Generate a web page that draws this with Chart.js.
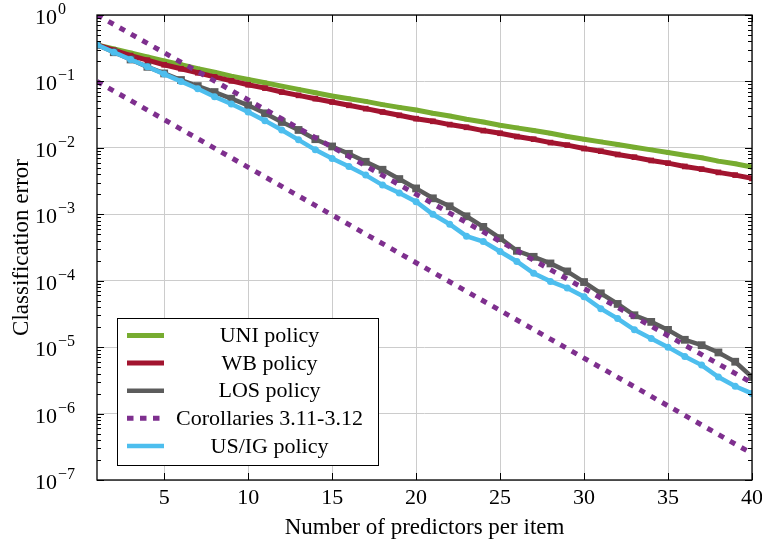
<!DOCTYPE html>
<html>
<head>
<meta charset="utf-8">
<script src="https://cdn.jsdelivr.net/npm/chart.js@4.4.1/dist/chart.umd.min.js"></script>
<style>
body { margin: 0; background: #fff; }
</style>
</head>
<body>
<canvas id="myChart" width="762" height="545"></canvas>
<script>

// number of predictors per item
var predictors = [1, 2, 3, 4, 5, 6, 7, 8, 9, 10, 11, 12, 13, 14, 15, 16, 17, 18, 19, 20,
	21, 22, 23, 24, 25, 26, 27, 28, 29, 30, 31, 32, 33, 34, 35, 36, 37, 38, 39, 40];

var uniPolicy = [0.355, 0.309, 0.269, 0.234, 0.204, 0.178, 0.155, 0.138, 0.120, 0.107,
	0.0955, 0.0851, 0.0759, 0.0676, 0.0603, 0.0550, 0.0501, 0.0447, 0.0407, 0.0372,
	0.0331, 0.0302, 0.0269, 0.0245, 0.0219, 0.0200, 0.0182, 0.0166, 0.0148, 0.0135,
	0.0123, 0.0112, 0.0102, 0.00933, 0.00851, 0.00776, 0.00708, 0.00631, 0.00575, 0.00513];

var wbPolicy = [0.355, 0.295, 0.245, 0.209, 0.178, 0.155, 0.135, 0.117, 0.102, 0.0891,
	0.0794, 0.0692, 0.0617, 0.0550, 0.0490, 0.0437, 0.0389, 0.0347, 0.0309, 0.0275,
	0.0251, 0.0224, 0.0204, 0.0182, 0.0166, 0.0148, 0.0135, 0.0120, 0.0110, 0.00977,
	0.00891, 0.00794, 0.00724, 0.00646, 0.00589, 0.00525, 0.00479, 0.00427, 0.00389, 0.00347];

var losPolicy = [0.355, 0.275, 0.214, 0.166, 0.132, 0.105, 0.0851, 0.0692, 0.0550, 0.0437,
	0.0331, 0.0245, 0.0186, 0.0135, 0.0105, 0.00813, 0.00617, 0.00468, 0.00339, 0.00245,
	0.00174, 0.00132, 0.000933, 0.000646, 0.000437, 0.000282, 0.000229, 0.000182, 0.000138, 0.0000955,
	6.46e-5, 4.47e-5, 3.02e-5, 2.40e-5, 1.82e-5, 1.29e-5, 1.07e-5, 8.32e-6, 6.03e-6, 3.55e-6];

var usigPolicy = [0.355, 0.275, 0.214, 0.166, 0.129, 0.100, 0.0776, 0.0589, 0.0457, 0.0347,
	0.0257, 0.0186, 0.0132, 0.00933, 0.00692, 0.00525, 0.00389, 0.00275, 0.00209, 0.00155,
	0.00100, 0.000708, 0.000468, 0.000389, 0.000275, 0.000195, 0.000129, 9.77e-5, 7.76e-5, 5.75e-5,
	3.80e-5, 2.69e-5, 1.82e-5, 1.35e-5, 1.00e-5, 7.24e-6, 5.37e-6, 3.55e-6, 2.57e-6, 2.00e-6];

// Corollaries 3.11-3.12 (two straight bounds)
var corX = [1, 40];
var corUpper = [1.0, 2.9e-6];
var corLower = [0.1, 2.5e-7];

var xTicks = [5, 10, 15, 20, 25, 30, 35, 40];
var yTicks = [1e-7, 1e-6, 1e-5, 1e-4, 1e-3, 1e-2, 1e-1, 1];
var yExponents = [-7, -6, -5, -4, -3, -2, -1, 0];

var legendNames = ['UNI policy', 'WB policy', 'LOS policy', 'Corollaries 3.11-3.12', 'US/IG policy'];

var FONT = '"Liberation Serif", "Times New Roman", serif';

function toPoints(xs, ys) {
	return xs.map(function (x, i) { return { x: x, y: ys[i] }; });
}

var styleUNI = { color: '#77ac30', width: 5 };
var styleWB = { color: '#a2142f', width: 5 };
var styleLOS = { color: '#5c5c5c', width: 4.5 };
var styleCOR = { color: '#7e2f8e', width: 5, dash: [6, 7] };
var styleUS = { color: '#4dbeee', width: 4.5 };

var datasets = [
	{ label: legendNames[0], data: toPoints(predictors, uniPolicy), borderColor: styleUNI.color,
		backgroundColor: styleUNI.color, borderWidth: styleUNI.width, pointStyle: 'rect', pointRadius: 3,
		pointBorderWidth: 0, order: 5 },
	{ label: legendNames[1], data: toPoints(predictors, wbPolicy), borderColor: styleWB.color,
		backgroundColor: styleWB.color, borderWidth: styleWB.width, pointStyle: 'rect', pointRadius: 4,
		pointBorderWidth: 0, order: 4 },
	{ label: legendNames[2], data: toPoints(predictors, losPolicy), borderColor: styleLOS.color,
		backgroundColor: styleLOS.color, borderWidth: styleLOS.width, pointStyle: 'rect', pointRadius: 5.5,
		pointBorderWidth: 0, order: 3 },
	{ label: legendNames[4], data: toPoints(predictors, usigPolicy), borderColor: styleUS.color,
		backgroundColor: styleUS.color, borderWidth: styleUS.width, pointStyle: 'circle', pointRadius: 3.5,
		pointBorderWidth: 0, order: 2 },
	{ label: legendNames[3], data: toPoints(corX, corUpper), borderColor: styleCOR.color,
		borderWidth: styleCOR.width, borderDash: styleCOR.dash, borderCapStyle: 'butt', pointRadius: 0, order: 1 },
	{ label: legendNames[3] + ' (lower)', data: toPoints(corX, corLower), borderColor: styleCOR.color,
		borderWidth: styleCOR.width, borderDash: styleCOR.dash, borderCapStyle: 'butt', pointRadius: 0, order: 1 }
];

var framePlugin = {
	id: 'frame',
	afterDatasetsDraw: function (chart) {
		var ctx = chart.ctx;
		var a = chart.chartArea;
		var xs = chart.scales.x;
		var ys = chart.scales.y;
		ctx.save();
		ctx.strokeStyle = '#000';
		ctx.lineWidth = 1;
		ctx.beginPath();
		// y ticks, left and right, major + minor
		for (var k = 0; k < yTicks.length; k++) {
			for (var m = 1; m <= 9; m++) {
				var v = yTicks[k] * m;
				if (v > 1.0000001) continue;
				var py = Math.round(ys.getPixelForValue(v)) + 0.5;
				var len = (m === 1) ? 7 : 4;
				ctx.moveTo(a.left, py); ctx.lineTo(a.left + len, py);
				ctx.moveTo(a.right, py); ctx.lineTo(a.right - len, py);
			}
		}
		// x ticks, bottom and top
		xTicks.forEach(function (t) {
			var px = Math.round(xs.getPixelForValue(t)) + 0.5;
			ctx.moveTo(px, a.bottom); ctx.lineTo(px, a.bottom - 7);
			ctx.moveTo(px, a.top); ctx.lineTo(px, a.top + 7);
		});
		ctx.stroke();
		ctx.lineWidth = 1.3;
		ctx.strokeRect(a.left, a.top, a.right - a.left, a.bottom - a.top);

		// y tick labels 10^k
		ctx.fillStyle = '#000';
		ctx.textAlign = 'left';
		yTicks.forEach(function (t, i) {
			var py = ys.getPixelForValue(t);
			ctx.font = '22px ' + FONT;
			ctx.textBaseline = 'alphabetic';
			ctx.fillText('10', 35, py + 9);
			var w = ctx.measureText('10').width;
			ctx.font = '16px ' + FONT;
			var e = yExponents[i];
			var sup = e < 0 ? '\u2212' + (-e) : String(e);
			ctx.fillText(sup, 35 + w + 1, py - 1);
		});
		ctx.restore();
	},
	afterDraw: function (chart) {
		var ctx = chart.ctx;
		var box = { x: 117.5, y: 318.5, w: 261, h: 147 };
		var rows = [
			{ name: legendNames[0], s: styleUNI },
			{ name: legendNames[1], s: styleWB },
			{ name: legendNames[2], s: styleLOS },
			{ name: legendNames[3], s: styleCOR },
			{ name: legendNames[4], s: styleUS }
		];
		ctx.save();
		ctx.fillStyle = '#fff';
		ctx.fillRect(box.x, box.y, box.w, box.h);
		ctx.strokeStyle = '#000';
		ctx.lineWidth = 1;
		ctx.strokeRect(box.x, box.y, box.w, box.h);
		rows.forEach(function (r, i) {
			var cy = 335.5 + i * 27.6;
			ctx.beginPath();
			ctx.strokeStyle = r.s.color;
			ctx.lineWidth = r.s.width;
			ctx.lineCap = 'butt';
			ctx.setLineDash(r.s.dash ? [6.5, 6.5] : []);
			ctx.moveTo(127, cy);
			ctx.lineTo(164, cy);
			ctx.stroke();
			ctx.setLineDash([]);
			ctx.fillStyle = '#000';
			ctx.font = '22px ' + FONT;
			ctx.textAlign = 'center';
			ctx.textBaseline = 'middle';
			ctx.fillText(r.name, 269.5, cy + 1);
		});
		ctx.restore();
	}
};

var ctx = document.getElementById('myChart').getContext('2d');

var myChart = new Chart(ctx, {
	type: 'line',
	data: { datasets: datasets },
	options: {
		responsive: false,
		animation: false,
		devicePixelRatio: 1,
		datasets: { line: { clip: 0, tension: 0 } },
		layout: { padding: { top: 15, right: 10, left: 0, bottom: 0 } },
		plugins: { legend: { display: false }, tooltip: { enabled: false } },
		scales: {
			x: {
				type: 'linear',
				min: 1,
				max: 40,
				afterBuildTicks: function (scale) {
					scale.ticks = xTicks.map(function (v) { return { value: v }; });
				},
				afterFit: function (scale) {
					scale.height = 65;
					scale.paddingLeft = 0;
					scale.paddingRight = 0;
				},
				grid: { color: '#cccccc', lineWidth: 1, drawTicks: false },
				border: { display: false },
				ticks: {
					color: '#000',
					padding: 5,
					maxRotation: 0,
					font: { family: FONT, size: 22 }
				},
				title: {
					display: true,
					text: 'Number of predictors per item',
					color: '#000',
					font: { family: FONT, size: 23 },
					padding: { top: 0, bottom: 3 }
				}
			},
			y: {
				type: 'logarithmic',
				min: 1e-7,
				max: 1,
				afterBuildTicks: function (scale) {
					scale.ticks = yTicks.map(function (v) { return { value: v }; });
				},
				afterFit: function (scale) { scale.width = 97; },
				grid: { color: '#cccccc', lineWidth: 1, drawTicks: false },
				border: { display: false },
				ticks: { display: false },
				title: {
					display: true,
					text: 'Classification error',
					color: '#000',
					font: { family: FONT, size: 23 },
					padding: { top: 8, bottom: 0 }
				}
			}
		}
	},
	plugins: [framePlugin]
});
</script>
</body>
</html>
